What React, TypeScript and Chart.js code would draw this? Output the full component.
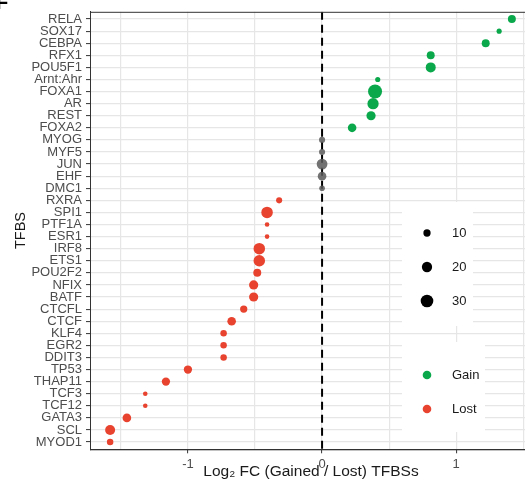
import React, { useEffect, useRef } from 'react';
import { Chart, registerables } from 'chart.js';

Chart.register(...registerables);

const tfbs = [
  'RELA', 'SOX17', 'CEBPA', 'RFX1', 'POU5F1', 'Arnt:Ahr', 'FOXA1', 'AR', 'REST', 'FOXA2',
  'MYOG', 'MYF5', 'JUN', 'EHF', 'DMC1', 'RXRA', 'SPI1', 'PTF1A', 'ESR1', 'IRF8',
  'ETS1', 'POU2F2', 'NFIX', 'BATF', 'CTCFL', 'CTCF', 'KLF4', 'EGR2', 'DDIT3', 'TP53',
  'THAP11', 'TCF3', 'TCF12', 'GATA3', 'SCL', 'MYOD1',
];

const log2FC = [
  1.415, 1.32, 1.22, 0.81, 0.81, 0.415, 0.395, 0.38, 0.365, 0.224,
  0, 0, 0, 0, 0, -0.32, -0.41, -0.41, -0.41, -0.468,
  -0.468, -0.483, -0.51, -0.51, -0.584, -0.674, -0.734, -0.734, -0.734, -1.0,
  -1.164, -1.318, -1.318, -1.455, -1.58, -1.58,
];

const siteCounts = [
  12, 5, 12, 12, 19, 5, 37, 24, 16, 14,
  7, 7, 22, 14, 6, 7, 25, 4, 4, 25,
  25, 12, 16, 16, 10, 14, 8, 8, 8, 13,
  13, 4, 4, 14, 19, 8,
];

const xTicks = [-1.5, -1, -0.5, 0, 0.5, 1, 1.5];
const sizeBreaks = [10, 20, 30];
const groupLabels = ['Gain', 'Lost'];

const GREEN = '#0AA84B';
const RED = '#E8432F';
const GRAY = 'rgba(90,90,90,0.85)';
const FONT = '"Liberation Sans", Arial, Helvetica, sans-serif';

const radiusFor = (n: number) => 1.15 * Math.sqrt(n);
const colorFor = (v: number) => (v > 0 ? GREEN : v < 0 ? RED : GRAY);

const decorPlugin = {
  id: 'decor',
  beforeDatasetsDraw(chart: any) {
    const ctx = chart.ctx as CanvasRenderingContext2D;
    const a = chart.chartArea;
    const x0 = chart.scales.x.getPixelForValue(0);
    ctx.save();
    ctx.beginPath();
    ctx.rect(a.left, a.top, a.right - a.left, a.bottom - a.top);
    ctx.clip();
    ctx.strokeStyle = '#000000';
    ctx.lineWidth = 2;
    ctx.setLineDash([8, 5]);
    ctx.beginPath();
    ctx.moveTo(x0, a.top);
    ctx.lineTo(x0, a.bottom);
    ctx.stroke();
    ctx.restore();
  },
  afterDatasetsDraw(chart: any) {
    const ctx = chart.ctx as CanvasRenderingContext2D;
    const a = chart.chartArea;
    ctx.save();
    // panel border
    ctx.strokeStyle = '#333333';
    ctx.lineWidth = 1;
    ctx.strokeRect(a.left + 0.5, a.top + 0.5, a.right - a.left, a.bottom - a.top);

    // size legend
    ctx.fillStyle = '#ffffff';
    ctx.fillRect(402, 202, 71, 124);
    ctx.fillRect(402, 342, 83, 90);
    ctx.font = `13px ${FONT}`;
    ctx.textBaseline = 'middle';
    ctx.textAlign = 'left';
    sizeBreaks.forEach((s, i) => {
      const y = 233 + i * 34;
      ctx.fillStyle = '#000000';
      ctx.beginPath();
      ctx.arc(427, y, radiusFor(s), 0, Math.PI * 2);
      ctx.fill();
      ctx.fillStyle = '#1a1a1a';
      ctx.fillText(String(s), 452, y + 0.5);
    });
    groupLabels.forEach((g, i) => {
      const y = 375 + i * 34;
      ctx.fillStyle = i === 0 ? GREEN : RED;
      ctx.beginPath();
      ctx.arc(427, y, 4.3, 0, Math.PI * 2);
      ctx.fill();
      ctx.fillStyle = '#1a1a1a';
      ctx.fillText(g, 452, y + 0.5);
    });

    // panel tag (cropped)
    ctx.fillStyle = '#000000';
    ctx.font = `bold 20px ${FONT}`;
    ctx.textBaseline = 'alphabetic';
    ctx.fillText('F', -4, 8.5);
    ctx.restore();
  },
};

export default function App() {
  const ref = useRef<HTMLCanvasElement | null>(null);

  useEffect(() => {
    if (!ref.current) return;
    const points = tfbs.map((_, i) => ({ x: log2FC[i], y: i }));
    const chart = new Chart(ref.current, {
      type: 'scatter',
      data: {
        datasets: [
          {
            data: points,
            pointBackgroundColor: log2FC.map(colorFor),
            pointBorderWidth: 0,
            pointBorderColor: 'rgba(0,0,0,0)',
            pointRadius: siteCounts.map(radiusFor),
            pointHoverRadius: siteCounts.map(radiusFor),
          },
        ],
      },
      options: {
        responsive: false,
        animation: false,
        events: [],
        layout: { padding: { top: 7.7, right: 8, bottom: 0, left: 0 } },
        plugins: {
          legend: { display: false },
          tooltip: { enabled: false },
        },
        scales: {
          x: {
            type: 'linear',
            min: -1.73,
            max: 1.565,
            afterBuildTicks: (scale: any) => {
              scale.ticks = xTicks.map((v) => ({ value: v }));
            },
            afterFit: (scale: any) => {
              scale.height = 491 - 449.3;
            },
            ticks: {
              autoSkip: false,
              maxRotation: 0,
              padding: 3,
              color: '#4d4d4d',
              font: { family: FONT, size: 13 },
              callback: (v: any) => (Number.isInteger(v) ? String(v) : ''),
            },
            grid: {
              color: '#e6e6e6',
              lineWidth: 1.2,
              tickLength: 4,
              tickWidth: 1,
              tickColor: (c: any) => (c.tick && Number.isInteger(c.tick.value) ? '#333333' : 'rgba(0,0,0,0)'),
            },
            border: { display: true, color: '#333333', width: 1 },
            title: {
              display: true,
              text: 'Log₂ FC (Gained / Lost) TFBSs',
              color: '#1a1a1a',
              font: { family: FONT, size: 15.5 },
              padding: { top: 0, bottom: 10 },
            },
          },
          y: {
            type: 'linear',
            reverse: true,
            min: -0.6,
            max: tfbs.length - 0.4,
            afterBuildTicks: (scale: any) => {
              scale.ticks = tfbs.map((_, i) => ({ value: i }));
            },
            afterFit: (scale: any) => {
              scale.width = 90;
            },
            ticks: {
              autoSkip: false,
              padding: 4,
              color: '#4d4d4d',
              font: { family: FONT, size: 13 },
              callback: (v: any) => tfbs[v as number] ?? '',
            },
            grid: {
              color: '#e6e6e6',
              lineWidth: 1.2,
              tickLength: 4,
              tickWidth: 1,
              tickColor: '#333333',
            },
            border: { display: true, color: '#333333', width: 1 },
            title: {
              display: true,
              text: 'TFBS',
              color: '#1a1a1a',
              font: { family: FONT, size: 14.5 },
              padding: { top: 12, bottom: 0 },
            },
          },
        },
      },
      plugins: [decorPlugin],
    } as any);
    return () => chart.destroy();
  }, []);

  return (
    <div
      style={{
        position: 'fixed',
        left: 0,
        top: 0,
        width: 525,
        height: 491,
        overflow: 'hidden',
        background: '#ffffff',
      }}
    >
      <canvas ref={ref} width={540} height={491} style={{ width: 540, height: 491, display: 'block' }} />
    </div>
  );
}
